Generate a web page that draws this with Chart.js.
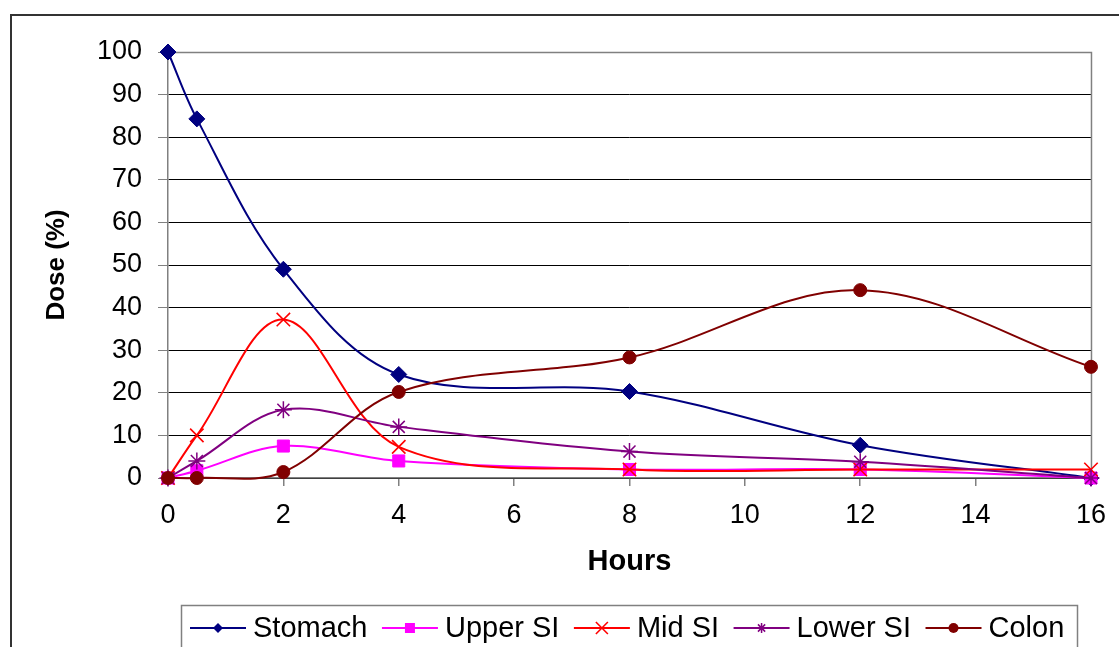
<!DOCTYPE html>
<html>
<head>
<meta charset="utf-8">
<title>Dose distribution over time</title>
<script src="https://cdn.jsdelivr.net/npm/chart.js@4.4.1/dist/chart.umd.min.js"></script>
<style>
  html, body { margin: 0; padding: 0; background: #fff; }
  canvas { display: block; }
</style>
</head>
<body>
<canvas id="chart" width="1119" height="647"></canvas>
<script>
// Sampling times (hours)
const hours = [0, 0.5, 2, 4, 8, 12, 16];

// Percentage of dose in each region
const stomach = [100, 84.3, 49, 24.3, 20.3, 7.7, 0];
const upperSI = [0, 1.7, 7.5, 4, 2, 2, 0];
const midSI   = [0, 10, 37.2, 7.3, 2, 2, 2];
const lowerSI = [0, 4, 16, 12, 6.2, 3.8, 0];
const colon   = [0, 0, 1.4, 20.2, 28.3, 44.1, 26.1];

const seriesNames = ['Stomach', 'Upper SI', 'Mid SI', 'Lower SI', 'Colon'];
const xTicks = [0, 2, 4, 6, 8, 10, 12, 14, 16];
const yTicks = [0, 10, 20, 30, 40, 50, 60, 70, 80, 90, 100];

const FONT = "'Liberation Sans', Arial, sans-serif";

const styles = [
  { color: '#000080', point: 'rectRot',  radius: 8,   pw: 1 },
  { color: '#FF00FF', point: 'rect',     radius: 8.5, pw: 1 },
  { color: '#FF0000', point: 'crossRot', radius: 9.5, pw: 1.6 },
  { color: '#800080', point: 'star',     radius: 8.5, pw: 1.5 },
  { color: '#800000', point: 'circle',   radius: 6.5, pw: 1 }
];

const values = [stomach, upperSI, midSI, lowerSI, colon];

const datasets = values.map((vals, i) => ({
  label: seriesNames[i],
  data: vals.map((v, j) => ({ x: hours[j], y: v })),
  borderColor: styles[i].color,
  backgroundColor: styles[i].color,
  pointStyle: styles[i].point,
  pointRadius: styles[i].radius,
  pointBorderWidth: styles[i].pw,
  pointBorderColor: styles[i].color,
  pointBackgroundColor: styles[i].color,
  borderWidth: 2,
  tension: 0.35,
  clip: false,
  order: values.length - 1 - i
}));

// Draws a legend marker in the same shape as the series points
function marker(ctx, style, x, y, r) {
  ctx.save();
  ctx.fillStyle = style.color;
  ctx.strokeStyle = style.color;
  ctx.lineWidth = style.pw;
  ctx.beginPath();
  if (style.point === 'rectRot') {
    ctx.moveTo(x - r, y); ctx.lineTo(x, y - r); ctx.lineTo(x + r, y); ctx.lineTo(x, y + r);
    ctx.closePath(); ctx.fill();
  } else if (style.point === 'rect') {
    ctx.rect(x - r, y - r, 2 * r, 2 * r); ctx.fill();
  } else if (style.point === 'circle') {
    ctx.arc(x, y, r, 0, Math.PI * 2); ctx.fill();
  } else if (style.point === 'crossRot') {
    ctx.moveTo(x - r, y - r); ctx.lineTo(x + r, y + r);
    ctx.moveTo(x + r, y - r); ctx.lineTo(x - r, y + r); ctx.stroke();
  } else if (style.point === 'star') {
    const d = r * 0.72;
    ctx.moveTo(x, y - r); ctx.lineTo(x, y + r);
    ctx.moveTo(x - d, y - d); ctx.lineTo(x + d, y + d);
    ctx.moveTo(x + d, y - d); ctx.lineTo(x - d, y + d); ctx.stroke();
  }
  ctx.restore();
}

const decorations = {
  id: 'decorations',
  beforeDatasetsDraw(chart) {
    const { ctx, chartArea: a } = chart;
    ctx.save();
    ctx.strokeStyle = '#808080';
    ctx.lineWidth = 1.5;
    ctx.beginPath();
    ctx.moveTo(a.left, a.top + 0.5);
    ctx.lineTo(a.right + 0.5, a.top + 0.5);
    ctx.lineTo(a.right + 0.5, a.bottom);
    ctx.stroke();
    ctx.restore();
  },
  afterDraw(chart) {
    const { ctx, chartArea: a } = chart;
    ctx.save();
    // Outer frame
    ctx.strokeStyle = '#333333';
    ctx.lineWidth = 2;
    ctx.strokeRect(11, 15, 1140, 660);

    // Axis titles
    ctx.fillStyle = '#000';
    ctx.textAlign = 'center';
    ctx.textBaseline = 'middle';
    ctx.font = "bold 29px " + FONT;
    ctx.fillText('Hours', (a.left + a.right) / 2, 562);
    ctx.save();
    ctx.translate(57, (a.top + a.bottom) / 2);
    ctx.rotate(-Math.PI / 2);
    ctx.font = "bold 26px " + FONT;
    ctx.fillText('Dose (%)', 0, 0);
    ctx.restore();

    // Legend box
    ctx.strokeStyle = '#808080';
    ctx.lineWidth = 1.5;
    ctx.strokeRect(181.5, 605.5, 896, 80);

    ctx.font = "29px " + FONT;
    ctx.textAlign = 'left';
    let x = 190;
    const ly = 628;
    seriesNames.forEach((name, i) => {
      const s = styles[i];
      ctx.strokeStyle = s.color;
      ctx.lineWidth = 2;
      ctx.beginPath();
      ctx.moveTo(x, ly); ctx.lineTo(x + 56, ly); ctx.stroke();
      marker(ctx, s, x + 28, ly, s.point === 'crossRot' ? 6 : 5);
      ctx.fillStyle = '#000';
      ctx.fillText(name, x + 63, ly + 1);
      x += 63 + ctx.measureText(name).width + 14.5;
    });
    ctx.restore();
  }
};

new Chart(document.getElementById('chart'), {
  type: 'line',
  data: { datasets },
  options: {
    responsive: false,
    animation: false,
    layout: { padding: { top: 52, right: 26, left: 0, bottom: 0 } },
    elements: { line: { capBezierPoints: false } },
    plugins: { legend: { display: false }, tooltip: { enabled: false } },
    scales: {
      x: {
        type: 'linear',
        min: 0, max: 16,
        afterBuildTicks: s => { s.ticks = xTicks.map(v => ({ value: v })); },
        afterFit: s => { s.height = 169; },
        ticks: { color: '#000', font: { size: 27, family: FONT }, padding: 13, maxRotation: 0 },
        grid: { drawOnChartArea: false, tickLength: 8, color: '#808080', lineWidth: 1.5 },
        border: { color: '#808080', width: 1.5 }
      },
      y: {
        min: 0, max: 100,
        afterBuildTicks: s => { s.ticks = yTicks.map(v => ({ value: v })); },
        afterFit: s => { s.width = 168; },
        ticks: { color: '#000', font: { size: 27, family: FONT }, padding: 16 },
        grid: {
          color: c => (c.tick && c.tick.value === 100) ? '#808080' : '#000000',
          tickColor: '#808080',
          tickLength: 10,
          lineWidth: 1
        },
        border: { color: '#808080', width: 1.5 }
      }
    }
  },
  plugins: [decorations]
});
</script>
</body>
</html>
